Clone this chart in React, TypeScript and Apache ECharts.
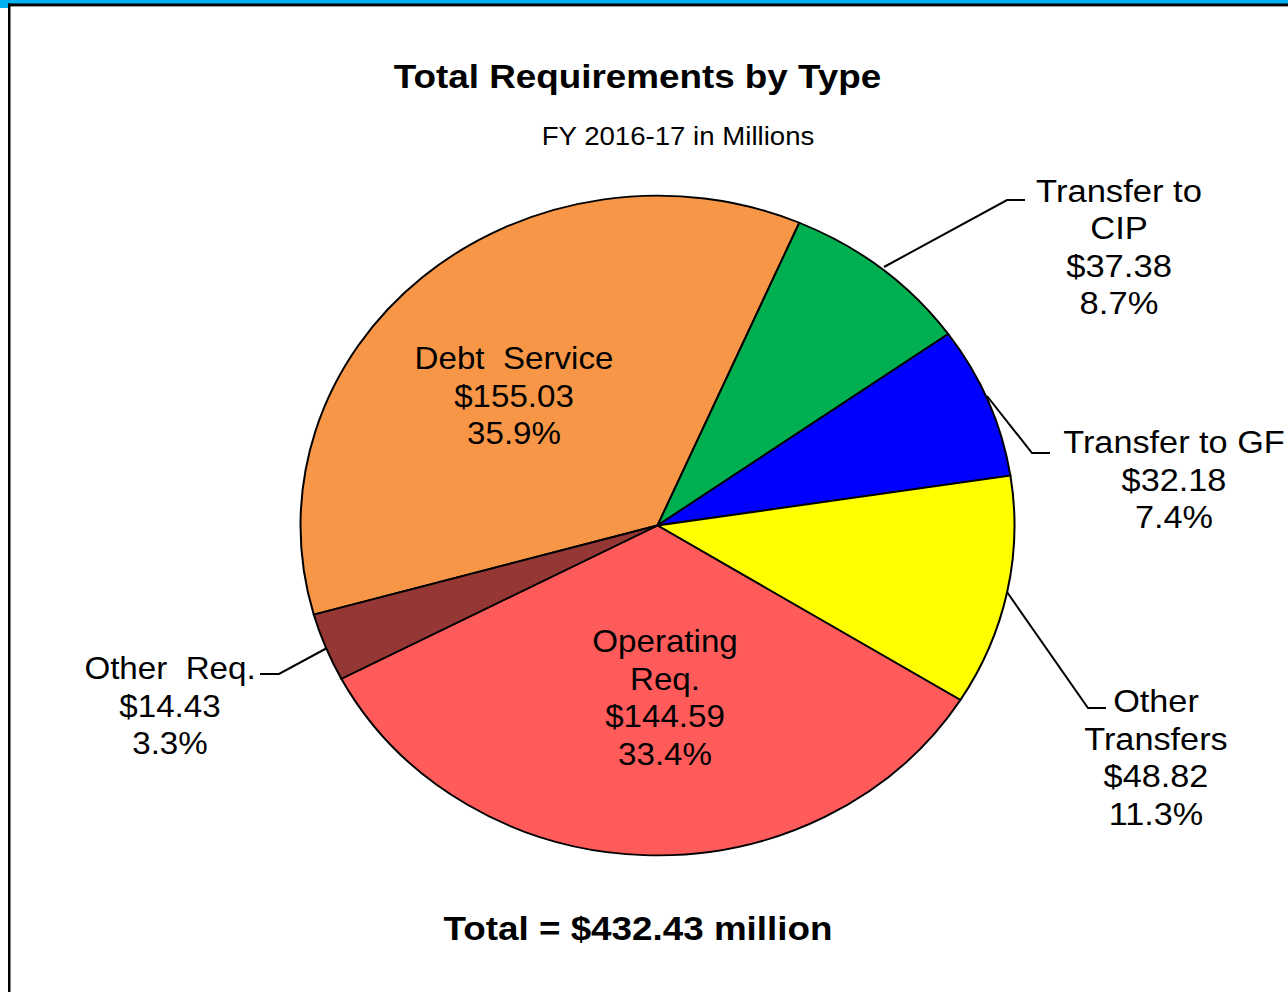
import React, { useEffect, useRef } from "react";
import * as echarts from "echarts";

// ---- data ----
const categories = ["Debt Service", "Transfer to CIP", "Transfer to GF", "Other Transfers", "Operating Req.", "Other Req."];
const labelNames = ["Debt  Service", "Transfer to\nCIP", "Transfer to GF", "Other\nTransfers", "Operating\nReq.", "Other  Req."];
const values = [155.03, 37.38, 32.18, 48.82, 144.59, 14.43];
const percentLabels = ["35.9%", "8.7%", "7.4%", "11.3%", "33.4%", "3.3%"];
const titleText = "Total Requirements by Type";
const subtitleText = "FY 2016-17 in Millions";
const totalText = "Total = $432.43 million";

// ---- styles / layout ----
const colors = ["#F79646", "#00B050", "#0000FF", "#FFFF00", "#FF5B5B", "#953735"];
const PIE = { cx: 657.5, cy: 525.5, rx: 357, ry: 330, startDeg: -105.66 };
const FONT = '"Liberation Sans", Arial, sans-serif';
const SX = 1.083;
const labelLayout = [
  { x: 514, y: 340, sx: SX },
  { x: 1119, y: 172, sx: 1.13 },
  { x: 1174, y: 424, sx: 1.12 },
  { x: 1156, y: 683, sx: 1.12 },
  { x: 665, y: 623, sx: SX },
  { x: 170, y: 650, sx: SX },
];
const leaderLines: (number[][] | null)[] = [
  null,
  [[884, 267], [1007, 200], [1025, 200]],
  [[987, 396], [1032, 453], [1050, 453]],
  [[1007, 592], [1088, 708], [1106, 708]],
  null,
  [[327, 648], [279, 674], [260, 674]],
];

export default function App() {
  const ref = useRef<HTMLDivElement>(null);
  useEffect(() => {
    if (!ref.current) return;
    const chart = echarts.init(ref.current, null, { renderer: "svg" });
    const total = values.reduce((a, b) => a + b, 0);

    const graphics: any[] = [
      // frame
      { type: "rect", shape: { x: 0, y: 0, width: 1288, height: 4 }, style: { fill: "#00B0F0" } },
      { type: "rect", shape: { x: 0, y: 0, width: 8, height: 8 }, style: { fill: "#00B0F0" } },
      { type: "rect", shape: { x: 8, y: 3.5, width: 1280, height: 2.5 }, style: { fill: "#000" } },
      { type: "rect", shape: { x: 8, y: 6, width: 1280, height: 1 }, style: { fill: "#999" } },
      { type: "rect", shape: { x: 8, y: 3.5, width: 2.5, height: 990 }, style: { fill: "#000" } },
      // titles
      {
        type: "text", x: 637.5, y: 76, scaleX: SX,
        style: { text: titleText, fontFamily: FONT, fontWeight: "bold", fontSize: 34, fill: "#000", align: "center", verticalAlign: "middle" },
      },
      {
        type: "text", x: 678, y: 136, scaleX: SX,
        style: { text: subtitleText, fontFamily: FONT, fontSize: 25.5, fill: "#000", align: "center", verticalAlign: "middle" },
      },
      {
        type: "text", x: 638, y: 928, scaleX: SX,
        style: { text: totalText, fontFamily: FONT, fontWeight: "bold", fontSize: 34, fill: "#000", align: "center", verticalAlign: "middle" },
      },
    ];

    categories.forEach((_, i) => {
      const ln = leaderLines[i];
      if (ln) {
        graphics.push({
          type: "polyline", z: 10,
          shape: { points: ln },
          style: { stroke: "#000", lineWidth: 2, fill: "none" },
        });
      }
      const pos = labelLayout[i];
      graphics.push({
        type: "text", x: pos.x, y: pos.y, scaleX: pos.sx, z: 10,
        style: {
          text: `${labelNames[i]}\n$${values[i].toFixed(2)}\n${percentLabels[i]}`,
          fontFamily: FONT, fontSize: 30.6, lineHeight: 37.5, fill: "#000",
          align: "center", verticalAlign: "top",
        },
      });
    });

    chart.setOption({
      animation: false,
      backgroundColor: "#fff",
      series: [
        {
          type: "custom",
          coordinateSystem: "none",
          data: values.map((v, i) => ({ name: categories[i], value: [v] })),
          renderItem: (params: any, api: any) => {
            const i = params.dataIndex;
            let before = 0;
            for (let j = 0; j < i; j++) before += values[j];
            const v = api.value(0);
            const a0 = ((PIE.startDeg + (before / total) * 360 - 90) * Math.PI) / 180;
            const a1 = ((PIE.startDeg + ((before + v) / total) * 360 - 90) * Math.PI) / 180;
            return {
              type: "sector",
              x: PIE.cx,
              y: PIE.cy,
              scaleY: PIE.ry / PIE.rx,
              shape: { cx: 0, cy: 0, r0: 0, r: PIE.rx, startAngle: a0, endAngle: a1, clockwise: true },
              style: { fill: colors[i], stroke: "#000", lineWidth: 2, strokeNoScale: true },
            };
          },
        },
      ],
      graphic: graphics,
    });
    return () => chart.dispose();
  }, []);
  return <div ref={ref} style={{ position: "absolute", left: 0, top: 0, width: 1288, height: 992 }} />;
}
